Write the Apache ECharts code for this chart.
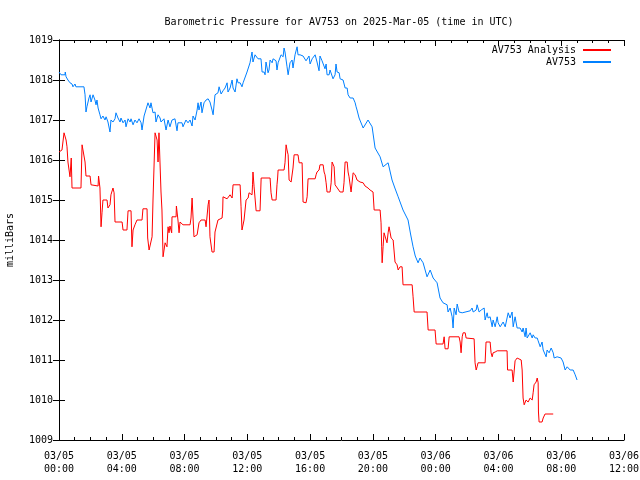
<!DOCTYPE html>
<html><head><meta charset="utf-8">
<script src="https://cdn.jsdelivr.net/npm/echarts@6/dist/echarts.min.js"></script>
<style>html,body{margin:0;padding:0;background:#fff}#c{width:640px;height:480px}</style>
</head><body><div id="c"></div>
<script>
// hours since 2025-03-05 00:00 UTC
var analysisTimes = [0,0.19,0.32,0.45,0.51,0.57,0.70,0.78,0.83,1.40,1.47,1.59,1.66,1.72,1.98,2.04,2.49,2.52,2.55,2.61,2.68,2.74,2.80,3.06,3.12,3.25,3.31,3.44,3.51,3.57,4.02,4.08,4.33,4.40,4.59,4.65,4.72,4.84,4.97,5.29,5.35,5.61,5.65,5.74,5.93,5.99,6.12,6.25,6.31,6.37,6.50,6.56,6.63,6.76,6.88,6.95,7.01,7.07,7.18,7.20,7.46,7.48,7.58,7.65,7.71,7.90,8.35,8.41,8.48,8.60,8.80,8.92,9.05,9.31,9.37,9.50,9.56,9.62,9.75,9.88,9.94,10.13,10.20,10.39,10.43,10.45,10.71,10.77,10.90,11.03,11.09,11.54,11.60,11.66,11.73,11.79,11.92,12.05,12.11,12.30,12.33,12.36,12.43,12.56,12.81,12.88,13.45,13.51,13.58,13.83,13.89,13.93,13.96,14.34,14.40,14.47,14.53,14.60,14.66,14.79,14.85,14.91,14.98,15.23,15.30,15.49,15.55,15.74,15.81,15.87,16.32,16.38,16.44,16.57,16.63,16.83,16.89,16.95,17.02,17.08,17.27,17.34,17.40,17.46,17.53,17.59,17.91,18.10,18.16,18.23,18.36,18.42,18.48,18.61,18.67,18.74,18.87,18.99,19.18,19.38,19.50,19.69,19.82,20.01,20.08,20.46,20.52,20.56,20.59,20.65,20.71,20.78,20.90,20.97,21.03,21.16,21.29,21.35,21.41,21.54,21.61,21.73,21.86,21.92,22.50,22.56,22.63,23.45,23.52,23.96,24.03,24.47,24.54,24.60,24.79,24.86,25.49,25.56,25.62,25.69,25.75,25.88,25.94,26.45,26.51,26.58,26.64,26.70,27.15,27.21,27.47,27.53,27.60,27.66,27.79,27.92,28.55,28.58,28.87,28.94,29.06,29.19,29.45,29.51,29.57,29.64,29.76,29.89,30.02,30.15,30.21,30.27,30.40,30.47,30.53,30.55,30.59,30.78,30.85,30.97,31.49];
var analysisValues = [1016.2,1016.25,1016.68,1016.5,1016.33,1015.95,1015.58,1016.05,1015.3,1015.3,1016.38,1016.33,1015.95,1015.6,1015.6,1015.38,1015.35,1015.6,1015.5,1015.3,1014.33,1014.68,1015.0,1015.0,1014.8,1014.88,1015.13,1015.3,1015.18,1014.45,1014.45,1014.25,1014.25,1014.73,1014.73,1013.83,1014.25,1014.38,1014.5,1014.5,1014.78,1014.78,1014.05,1013.75,1014.08,1015.0,1016.68,1016.5,1015.95,1016.68,1015.2,1014.75,1013.58,1013.93,1013.83,1014.33,1014.18,1014.35,1014.18,1014.58,1014.58,1014.85,1014.5,1014.18,1014.45,1014.38,1014.38,1014.55,1015.05,1014.08,1014.13,1014.43,1014.5,1014.5,1014.33,1014.88,1015.0,1014.08,1013.7,1013.7,1014.2,1014.5,1014.55,1014.55,1014.75,1015.08,1015.03,1015.0,1015.13,1015.05,1015.38,1015.38,1014.83,1014.25,1014.3,1014.5,1015.0,1015.05,1015.18,1015.13,1015.38,1015.7,1015.33,1014.73,1014.73,1015.55,1015.55,1015.18,1015.0,1015.0,1015.38,1015.55,1015.75,1015.75,1015.93,1016.38,1016.25,1016.13,1015.5,1015.45,1015.45,1015.8,1016.13,1016.13,1015.93,1015.93,1014.95,1014.93,1015.08,1015.53,1015.53,1015.63,1015.7,1015.75,1015.88,1015.88,1015.7,1015.63,1015.43,1015.2,1015.2,1015.43,1015.95,1015.93,1015.83,1015.38,1015.2,1015.2,1015.43,1015.95,1015.95,1015.7,1015.58,1015.2,1015.25,1015.68,1015.63,1015.5,1015.45,1015.43,1015.35,1015.3,1015.25,1015.2,1014.75,1014.75,1014.43,1013.83,1013.43,1013.83,1014.18,1014.2,1013.93,1014.18,1014.33,1014.05,1014.0,1014.0,1013.45,1013.38,1013.25,1013.33,1013.33,1012.88,1012.88,1012.58,1012.2,1012.2,1011.75,1011.75,1011.4,1011.4,1011.58,1011.28,1011.28,1011.58,1011.58,1011.45,1011.18,1011.58,1011.68,1011.68,1011.55,1011.53,1010.93,1010.75,1010.83,1010.93,1010.93,1011.45,1011.45,1011.18,1011.08,1011.18,1011.2,1011.23,1011.23,1010.75,1010.75,1010.45,1010.98,1011.05,1011.0,1010.75,1010.05,1009.88,1010.0,1009.95,1010.05,1010.0,1010.18,1010.38,1010.45,1010.55,1010.43,1009.7,1009.45,1009.45,1009.55,1009.65,1009.65];
var stationTimes = [0,0.06,0.13,0.38,0.40,0.45,0.57,0.70,0.83,0.89,1.02,1.08,1.21,1.59,1.66,1.72,1.78,1.91,1.98,2.04,2.17,2.29,2.36,2.42,2.49,2.61,2.68,2.80,2.93,3.00,3.12,3.25,3.31,3.44,3.57,3.63,3.76,3.89,3.95,4.08,4.21,4.27,4.40,4.53,4.59,4.72,4.84,4.97,5.10,5.23,5.29,5.42,5.54,5.67,5.80,5.86,5.99,6.12,6.18,6.31,6.44,6.50,6.69,6.76,6.82,6.95,7.07,7.20,7.39,7.52,7.58,7.84,7.90,8.09,8.22,8.35,8.48,8.54,8.67,8.80,8.86,8.92,9.05,9.11,9.24,9.37,9.50,9.62,9.75,9.82,9.94,10.13,10.20,10.33,10.45,10.58,10.71,10.77,10.90,11.03,11.09,11.22,11.34,11.41,11.54,11.66,11.73,11.85,11.98,12.05,12.17,12.24,12.30,12.36,12.49,12.68,12.87,12.94,13.07,13.13,13.19,13.32,13.38,13.45,13.58,13.64,13.70,13.83,13.89,13.96,14.15,14.28,14.34,14.40,14.53,14.60,14.72,14.85,14.91,15.04,15.17,15.23,15.36,15.55,15.62,15.74,15.81,15.93,16.00,16.13,16.25,16.32,16.44,16.57,16.63,16.76,16.83,16.95,17.02,17.08,17.21,17.27,17.40,17.46,17.59,17.65,17.72,17.85,17.91,18.10,18.23,18.36,18.42,18.55,18.74,18.87,18.93,18.99,19.12,19.18,19.38,19.69,19.95,20.14,20.46,20.65,20.97,21.22,21.4,21.61,21.92,22.24,22.4,22.56,22.7,22.88,23.0,23.2,23.45,23.65,23.84,24.09,24.28,24.47,24.73,24.79,24.92,25.05,25.11,25.18,25.30,25.37,25.49,25.69,25.75,26.20,26.32,26.39,26.58,26.64,26.77,26.90,27.02,27.09,27.15,27.28,27.34,27.47,27.60,27.66,27.79,27.92,27.98,28.11,28.30,28.43,28.55,28.62,28.74,28.87,28.94,29.06,29.19,29.38,29.51,29.57,29.70,29.76,29.83,30.02,30.15,30.21,30.34,30.47,30.53,30.66,30.78,30.85,30.97,31.04,31.10,31.23,31.36,31.49,31.55,31.74,31.99,32.12,32.25,32.38,32.57,32.76,32.89,33.01];
var stationValues = [1018.2,1018.2,1018.13,1018.13,1018.2,1018.08,1018.0,1017.93,1017.9,1017.83,1017.9,1017.83,1017.83,1017.83,1017.63,1017.2,1017.33,1017.55,1017.63,1017.45,1017.63,1017.5,1017.38,1017.5,1017.3,1017.13,1017.03,1017.1,1017.0,1017.08,1016.95,1016.7,1017.0,1016.95,1017.03,1017.18,1017.05,1016.95,1017.05,1016.93,1017.0,1016.83,1017.03,1016.95,1017.03,1016.88,1017.0,1016.93,1017.03,1016.93,1016.75,1017.1,1017.13,1017.43,1017.3,1017.43,1017.18,1017.2,1016.95,1017.13,1017.05,1016.95,1017.03,1017.0,1016.75,1017.0,1016.83,1017.0,1017.03,1016.73,1016.93,1016.93,1016.83,1017.0,1016.93,1017.0,1016.85,1017.1,1017.0,1017.25,1017.43,1017.25,1017.45,1017.18,1017.43,1017.5,1017.53,1017.45,1017.25,1017.13,1017.63,1017.68,1017.83,1017.65,1017.73,1017.8,1017.93,1017.7,1017.8,1018.0,1017.8,1017.7,1018.03,1017.93,1017.93,1017.83,1017.93,1017.95,1018.2,1018.25,1018.43,1018.58,1018.7,1018.45,1018.63,1018.53,1018.53,1018.2,1018.2,1018.13,1018.45,1018.18,1018.25,1018.5,1018.43,1018.53,1018.53,1018.48,1018.25,1018.43,1018.63,1018.58,1018.8,1018.7,1018.33,1018.13,1018.43,1018.5,1018.3,1018.63,1018.83,1018.63,1018.63,1018.6,1018.55,1018.48,1018.43,1018.6,1018.4,1018.53,1018.53,1018.63,1018.45,1018.23,1018.6,1018.48,1018.43,1018.28,1018.4,1018.13,1018.13,1018.25,1018.1,1018.03,1018.13,1018.4,1018.2,1018.18,1018.03,1018.0,1017.8,1017.8,1017.63,1017.55,1017.55,1017.43,1017.33,1017.25,1017.05,1017.0,1016.8,1017.0,1016.83,1016.3,1016.08,1015.83,1015.93,1015.5,1015.3,1015.08,1014.75,1014.5,1014.15,1013.83,1013.6,1013.43,1013.55,1013.43,1013.08,1013.25,1013.05,1012.93,1012.55,1012.43,1012.38,1012.2,1012.3,1012.08,1011.8,1012.3,1012.13,1012.4,1012.2,1012.18,1012.23,1012.23,1012.3,1012.2,1012.25,1012.38,1012.2,1012.25,1012.2,1012.3,1012.0,1012.18,1012.05,1012.08,1011.83,1012.0,1011.83,1012.08,1011.93,1011.83,1011.95,1011.83,1011.8,1012.18,1012.05,1012.2,1011.83,1012.08,1011.8,1011.8,1011.7,1011.8,1011.58,1011.8,1011.55,1011.68,1011.55,1011.63,1011.55,1011.55,1011.48,1011.33,1011.45,1011.25,1011.3,1011.08,1011.25,1011.18,1011.3,1011.18,1011.05,1011.08,1011.05,1010.95,1010.75,1010.83,1010.75,1010.75,1010.63,1010.5];
var seriesNames = ['AV753 Analysis', 'AV753'];
var dayLabels = ['03/05', '03/06'];
var titleText = 'Barometric Pressure for AV753 on 2025-Mar-05 (time in UTC)';
var yAxisName = 'milliBars';

function zip(a, b) { return a.map(function (t, i) { return [t, b[i]]; }); }
function fmtTime(h) {
  var d = Math.floor(h / 24), hh = Math.round(h - d * 24);
  return dayLabels[d] + '\n' + (hh < 10 ? '0' : '') + hh + ':00';
}
var font = 'DejaVu Sans Mono';
var axisCommon = {
  axisLine: { show: true, lineStyle: { color: '#000', width: 1 } },
  splitLine: { show: false },
  axisTick: { show: true, inside: true, length: 6, lineStyle: { color: '#000' } }
};
var chart = echarts.init(document.getElementById('c'), null, { renderer: 'canvas' });
chart.setOption({
  animation: false,
  backgroundColor: '#fff',
  title: { text: titleText, left: 334, top: 12, textAlign: 'center',
    textStyle: { fontFamily: font, fontSize: 10, fontWeight: 'normal', color: '#000' } },
  legend: {
    data: seriesNames, orient: 'vertical', right: 29, top: 44, align: 'right', padding: 0,
    itemWidth: 28, itemHeight: 2, itemGap: 0, icon: 'rect',
    textStyle: { fontFamily: font, fontSize: 10, color: '#000', padding: [0, 2, 0, 0], lineHeight: 12 }
  },
  grid: { left: 59, right: 16, top: 40, bottom: 40, containLabel: false, outerBoundsMode: 'none' },
  xAxis: [
    Object.assign({}, axisCommon, {
      type: 'value', min: 0, max: 36, interval: 4, position: 'bottom',
      minorTick: { show: true, splitNumber: 4, length: 3, lineStyle: { color: '#000' } },
      axisLabel: { formatter: fmtTime, fontFamily: font, fontSize: 10, color: '#000', margin: 10, lineHeight: 13 }
    }),
    Object.assign({}, axisCommon, {
      type: 'value', min: 0, max: 36, interval: 4, position: 'top',
      minorTick: { show: true, splitNumber: 4, length: 3, lineStyle: { color: '#000' } },
      axisLabel: { show: false }
    })
  ],
  yAxis: [
    Object.assign({}, axisCommon, {
      type: 'value', min: 1009, max: 1019, interval: 1, position: 'left',
      name: yAxisName, nameLocation: 'middle', nameRotate: 90, nameGap: 44,
      nameTextStyle: { fontFamily: font, fontSize: 10, color: '#000' },
      axisLabel: { fontFamily: font, fontSize: 10, color: '#000', margin: 6,
        formatter: function (v) { return String(Math.round(v)); } }
    }),
    Object.assign({}, axisCommon, {
      type: 'value', min: 1009, max: 1019, interval: 1, position: 'right',
      axisLabel: { show: false }
    })
  ],
  series: [
    { name: seriesNames[0], type: 'line', showSymbol: false, symbol: 'none',
      data: zip(analysisTimes, analysisValues), color: '#ff0000',
      lineStyle: { width: 1, color: '#ff0000' } },
    { name: seriesNames[1], type: 'line', showSymbol: false, symbol: 'none',
      data: zip(stationTimes, stationValues), color: '#0080ff',
      lineStyle: { width: 1, color: '#0080ff' } }
  ]
});
</script></body></html>
